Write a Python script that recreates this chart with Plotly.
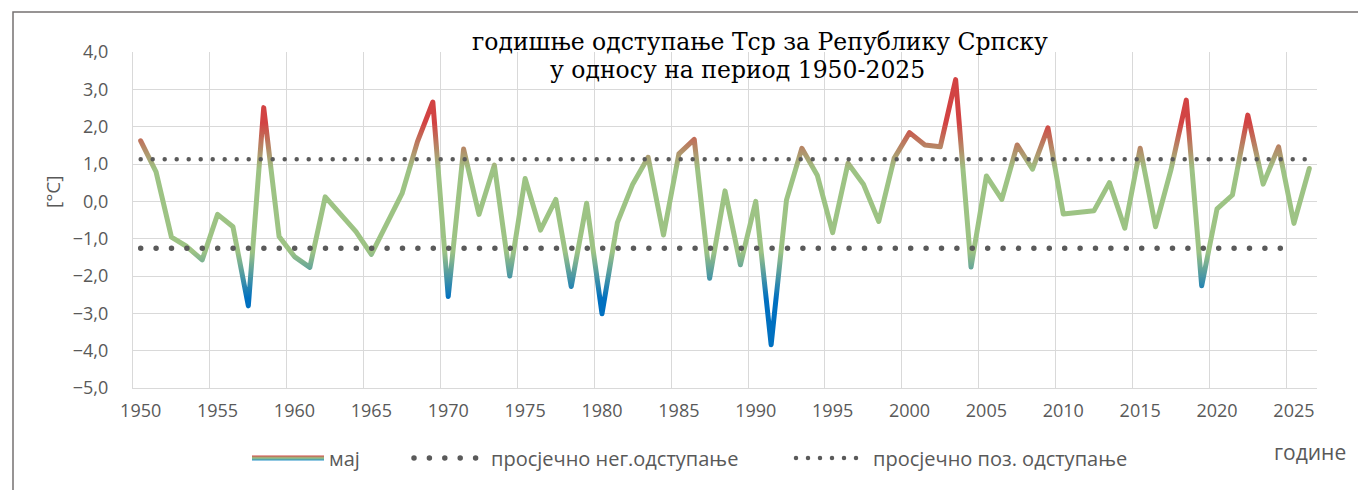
import json
import plotly.graph_objects as go

# ---------------- data ----------------
years = list(range(1950, 2027))
may_dev = [1.62, 0.79, -0.96, -1.21, -1.57, -0.35, -0.68, -2.80, 2.51, -0.94,
           -1.48, -1.77, 0.12, -0.37, -0.81, -1.42, -0.61, 0.21, 1.60, 2.66,
           -2.55, 1.40, -0.35, 0.97, -2.00, 0.61, -0.77, 0.05, -2.28, -0.05,
           -3.01, -0.57, 0.46, 1.18, -0.90, 1.27, 1.66, -2.06, 0.28, -1.70,
           0.00, -3.84, 0.04, 1.42, 0.70, -0.84, 1.02, 0.46, -0.54, 1.15,
           1.84, 1.51, 1.46, 3.26, -1.76, 0.68, 0.05, 1.51, 0.86, 1.97,
           -0.34, -0.28, -0.25, 0.50, -0.72, 1.42, -0.68, 0.84, 2.71, -2.26,
           -0.20, 0.17, 2.31, 0.46, 1.46, -0.59, 0.88]
neg_avg = -1.26
pos_avg = 1.13
neg_years = list(range(1950, 2026))
pos_years = list(range(1950, 2027))

series_names = ["мај", "просјечно нег.одступање", "просјечно поз. одступање"]
title_lines = ["годишње одступање Тср за Републику Српску", "у односу на период 1950-2025"]
y_title = "[°C]"
x_title = "године"

# gradient stops along the value axis (value, colour)
grad_stops = [[2.1, "#D24343"], [0.85, "#9DC384"], [-1.35, "#9DC384"], [-2.6, "#0070C0"]]
legend_stops = [[0, "#D24343"], [0.5, "#9DC384"], [1, "#1F8FC8"]]

# ---------------- layout constants ----------------
W, H = 1358, 490
ML, MR, MT, MB = 133, 41, 52, 102
PW, PH = W - ML - MR, H - MT - MB
GRID = "#D9D9D9"
TXT = "#595959"
SANS = "Open Sans"

def px_x(px):
    return (px - ML) / PW

def px_y(py):
    return (H - MB - py) / PH

fig = go.Figure()
fig.add_trace(go.Scatter(
    x=[str(y) for y in years], y=may_dev, mode="lines", name=series_names[0],
    line=dict(color="#9DC384", width=5), legend="legend", showlegend=True))
fig.add_trace(go.Scatter(
    x=[str(y) for y in neg_years], y=[neg_avg] * len(neg_years), mode="lines",
    name=series_names[1], line=dict(color="#5A5A5A", width=5.5, dash="0px,15.4px"),
    legend="legend2"))
fig.add_trace(go.Scatter(
    x=[str(y) for y in pos_years], y=[pos_avg] * len(pos_years), mode="lines",
    name=series_names[2], line=dict(color="#5A5A5A", width=4.5, dash="0px,12px"),
    legend="legend3"))

leg_common = dict(orientation="h", yanchor="middle", y=px_y(458), xanchor="left",
                  font=dict(family=SANS, size=20, color=TXT), bgcolor="rgba(0,0,0,0)",
                  itemwidth=72)

fig.update_layout(
    width=W, height=H,
    margin=dict(l=ML, r=MR, t=MT, b=MB, autoexpand=False),
    paper_bgcolor="white", plot_bgcolor="white",
    separators=",.",
    xaxis=dict(type="category", range=[-0.5, len(years) - 0.5], tickson="boundaries",
               dtick=5, tick0=0, tickangle=0, showgrid=True, gridcolor=GRID, gridwidth=1.3,
               showline=True, linecolor=GRID, linewidth=1.3, ticks="",
               tickfont=dict(family=SANS, size=18, color=TXT), ticklabelstandoff=6,
               zeroline=False),
    yaxis=dict(range=[-5, 4], dtick=1, tick0=0, tickformat=".1f", showgrid=True,
               gridcolor=GRID, gridwidth=1.3, showline=True, linecolor=GRID, linewidth=1.3,
               zeroline=False, ticks="", ticklabelstandoff=20,
               tickfont=dict(family=SANS, size=18, color=TXT)),
    legend=dict(leg_common, x=px_x(247)),
    legend2=dict(leg_common, x=px_x(409)),
    legend3=dict(leg_common, x=px_x(791)),
    annotations=[
        dict(text=title_lines[0], xref="paper", yref="paper", x=px_x(760), y=px_y(42),
             xanchor="center", yanchor="middle", showarrow=False,
             font=dict(family="DejaVu Serif", size=23.5, color="black")),
        dict(text=title_lines[1], xref="paper", yref="paper", x=px_x(737), y=px_y(70),
             xanchor="center", yanchor="middle", showarrow=False,
             font=dict(family="DejaVu Serif", size=23.5, color="black")),
        dict(text=y_title, xref="paper", yref="paper", x=px_x(53), y=px_y(192),
             xanchor="center", yanchor="middle", showarrow=False, textangle=-90,
             font=dict(family=SANS, size=19, color=TXT)),
        dict(text=x_title, xref="paper", yref="paper", x=px_x(1310), y=px_y(452),
             xanchor="center", yanchor="middle", showarrow=False,
             font=dict(family=SANS, size=21, color=TXT)),
    ],
    shapes=[dict(type="rect", xref="paper", yref="paper", x0=px_x(13), x1=px_x(W + 20),
                 y0=px_y(H + 20), y1=px_y(12), line=dict(color="#767171", width=1.5),
                 fillcolor="rgba(0,0,0,0)", layer="below")],
)

post = """
(function(){
document.body.style.margin = '0';
document.body.style.overflow = 'hidden';
var gd = document.getElementById('{plot_id}');
var NS = 'http://www.w3.org/2000/svg';
var STOPS = __STOPS__;
var LSTOPS = __LSTOPS__;
function grad(defs, id, y1, y2, stops){
  var g = document.getElementById(id);
  if(g) g.parentNode.removeChild(g);
  g = document.createElementNS(NS, 'linearGradient');
  g.setAttribute('id', id);
  g.setAttribute('gradientUnits', 'userSpaceOnUse');
  g.setAttribute('x1', '0'); g.setAttribute('x2', '0');
  g.setAttribute('y1', y1); g.setAttribute('y2', y2);
  stops.forEach(function(s){
    var st = document.createElementNS(NS, 'stop');
    st.setAttribute('offset', s[0]); st.setAttribute('stop-color', s[1]);
    g.appendChild(st);
  });
  defs.appendChild(g);
}
function apply(){
  var fl = gd._fullLayout; if(!fl) return;
  var ya = fl.yaxis;
  var defs = gd.querySelector('svg.main-svg defs');
  var top = STOPS[0][0], bot = STOPS[STOPS.length-1][0];
  var stops = STOPS.map(function(s){ return [(s[0]-top)/(bot-top), s[1]]; });
  grad(defs, 'majGrad', ya.l2p(top), ya.l2p(bot), stops);
  grad(defs, 'majLegGrad', -2.6, 2.6, LSTOPS);
  var traces = gd.querySelectorAll('.scatterlayer .trace');
  if(traces.length > 0){
    var p = traces[0].querySelector('path.js-line');
    if(p){ p.style.stroke = 'url(#majGrad)'; p.style.strokeLinejoin = 'round'; p.style.strokeLinecap = 'round'; }
  }
  for(var i = 1; i < traces.length; i++){
    var q = traces[i].querySelector('path.js-line');
    if(q){ q.style.strokeLinecap = 'round'; }
  }
  var legs = gd.querySelectorAll('.legendlines path');
  legs.forEach(function(l){
    var item = l.closest('.traces');
    if(!item) return;
    var txt = item.textContent || '';
    if(txt.indexOf('мај') >= 0){ l.style.stroke = 'url(#majLegGrad)'; }
    else { l.style.strokeLinecap = 'round'; }
  });
}
apply();
gd.on('plotly_afterplot', apply);
})();
"""
post = post.replace("__STOPS__", json.dumps(grad_stops)).replace("__LSTOPS__", json.dumps(legend_stops))

fig.write_html("out.html", post_script=post, config={"displayModeBar": False})
